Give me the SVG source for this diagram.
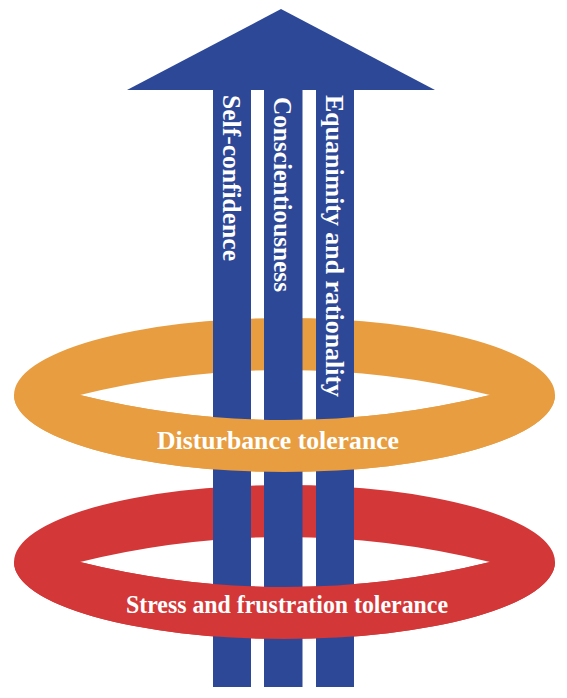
<svg xmlns="http://www.w3.org/2000/svg" width="567" height="698" viewBox="0 0 567 698">
  <style>
    .blue { fill: #2E4898; }
    .orange { fill: #E89D40; }
    .red { fill: #D33737; }
    .lbl { fill: #FFFFFF; font-family: "Liberation Serif", "Times New Roman", serif; font-weight: bold; font-size: 25px; }
  </style>
  <defs>
    <path id="ring" d="M14,395 A270.5,77 0 1,0 555,395 A270.5,77 0 1,0 14,395 Z M80,395 A853,853 0 0,1 490,395 A853,853 0 0,1 80,395 Z" fill-rule="evenodd"/>
    <clipPath id="front">
      <rect x="0" y="395" width="567" height="120"/>
    </clipPath>
  </defs>
  <rect width="567" height="698" fill="#FFFFFF"/>

  <!-- back halves of rings -->
  <g id="ring-disturbance-back">
    <use href="#ring" class="orange"/>
  </g>
  <g id="ring-stress-back" transform="translate(0,167)">
    <use href="#ring" class="red"/>
  </g>

  <!-- arrow with three shafts -->
  <g id="arrow">
    <polygon class="blue" points="281,9 435,90 127,90"/>
    <g id="bar-self-confidence">
      <rect class="blue" x="213" y="89" width="38" height="598"/>
      <text class="lbl" transform="translate(223,95) rotate(90)" textLength="166" lengthAdjust="spacingAndGlyphs">Self-confidence</text>
    </g>
    <g id="bar-conscientiousness">
      <rect class="blue" x="264" y="89" width="38.5" height="598"/>
      <text class="lbl" transform="translate(273.5,97) rotate(90)" textLength="195" lengthAdjust="spacingAndGlyphs">Conscientiousness</text>
    </g>
    <g id="bar-equanimity">
      <rect class="blue" x="316" y="89" width="38" height="598"/>
      <text class="lbl" transform="translate(326,95) rotate(90)" textLength="302" lengthAdjust="spacingAndGlyphs">Equanimity and rationality</text>
    </g>
  </g>

  <!-- front halves of rings with labels -->
  <g id="ring-disturbance">
    <use href="#ring" class="orange" clip-path="url(#front)"/>
    <text class="lbl" x="157" y="449" textLength="242" lengthAdjust="spacingAndGlyphs">Disturbance tolerance</text>
  </g>
  <g id="ring-stress">
    <g transform="translate(0,167)">
      <use href="#ring" class="red" clip-path="url(#front)"/>
    </g>
    <text class="lbl" x="126" y="613" textLength="322" lengthAdjust="spacingAndGlyphs">Stress and frustration tolerance</text>
  </g>
</svg>
